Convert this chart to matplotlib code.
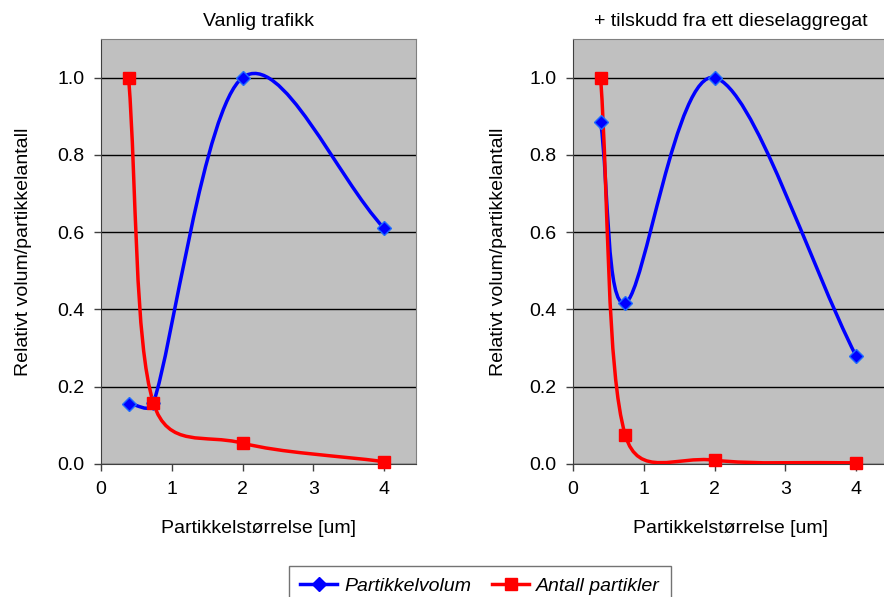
import numpy as np
import matplotlib
matplotlib.use("Agg")
import matplotlib.pyplot as plt
from matplotlib.path import Path
from matplotlib.patches import PathPatch
from matplotlib.lines import Line2D

plt.rcParams['font.family'] = ['Liberation Sans', 'DejaVu Sans']

# particle size [um]
sizes = [0.39, 0.74, 2.0, 4.0]

# left: normal traffic
vol_traffic = [0.156, 0.158, 1.0, 0.61]
count_traffic = [1.0, 0.158, 0.054, 0.006]

# right: + diesel generator
vol_diesel = [0.886, 0.417, 1.0, 0.279]
count_diesel = [1.0, 0.074, 0.010, 0.003]

titles = ["Vanlig trafikk", "+ tilskudd fra ett dieselaggregat"]
xlabel = "Partikkelstørrelse [um]"
ylabel = "Relativt volum/partikkelantall"
legend_labels = ["Partikkelvolum", "Antall partikler"]

FS = 14


def smooth_path(ax, xs, ys):
    # excel-like smoothed line: bezier segments, tangent = (next - prev)/6,
    # control arm capped at half the segment length (done in screen space)
    pts = ax.transData.transform(np.column_stack([xs, ys]))
    n = len(pts)
    verts = [pts[0]]
    codes = [Path.MOVETO]
    for i in range(n - 1):
        p0, p1 = pts[i], pts[i + 1]
        seg = np.hypot(*(p1 - p0))
        if i == 0:
            t1 = (p1 - p0) / 3.0
        else:
            t1 = (p1 - pts[i - 1]) / 6.0
        if i == n - 2:
            t2 = (p1 - p0) / 3.0
        else:
            t2 = (pts[i + 2] - p0) / 6.0
        for t in (t1, t2):
            ln = np.hypot(*t)
            if ln > seg / 2:
                t *= (seg / 2) / ln
        verts += [p0 + t1, p1 - t2, p1]
        codes += [Path.CURVE4] * 3
    verts = ax.transData.inverted().transform(np.array(verts))
    return Path(verts, codes)


fig = plt.figure(figsize=(8.84, 5.97), dpi=100)
W, H = 884.0, 597.0
ax_left = fig.add_axes([101 / W, (H - 464) / H, 315 / W, 425 / H])
ax_right = fig.add_axes([573 / W, (H - 464) / H, 315 / W, 425 / H])

panels = [
    (ax_left, vol_traffic, count_traffic, titles[0], -0.22),
    (ax_right, vol_diesel, count_diesel, titles[1], -0.21),
]

for ax, vol, cnt, title, ylab_x in panels:
    ax.set_facecolor('#c0c0c0')
    ax.set_xlim(0, 4.45)
    ax.set_ylim(0, 1.1)
    ax.set_xticks([0, 1, 2, 3, 4])
    ax.set_yticks([0, 0.2, 0.4, 0.6, 0.8, 1.0])
    ax.set_yticklabels(['0.0', '0.2', '0.4', '0.6', '0.8', '1.0'])
    ax.grid(axis='y', color='black', linewidth=1.0)
    ax.set_axisbelow(True)
    ax.tick_params(labelsize=FS, length=5, width=1, direction='out', pad=7,
                   color='#404040')
    for s in ['top', 'right']:
        ax.spines[s].set_color('#808080')
    for s in ['left', 'bottom']:
        ax.spines[s].set_color('#404040')
    ax.set_title(title, fontsize=FS, pad=9)
    ax.set_xlabel(xlabel, fontsize=FS, labelpad=16)
    ax.set_ylabel(ylabel, fontsize=FS)
    ax.yaxis.set_label_coords(ylab_x, 0.5)

    for vals, color in [(vol, 'blue'), (cnt, 'red')]:
        ax.add_patch(PathPatch(smooth_path(ax, sizes, vals), fill=False,
                               edgecolor=color, linewidth=2.5, zorder=3,
                               capstyle='round', joinstyle='round'))
    ax.plot(sizes, vol, linestyle='none', marker='D', markersize=7,
            color='blue', markeredgecolor='#1e6cff', zorder=4, clip_on=False)
    ax.plot(sizes, cnt, linestyle='none', marker='s', markersize=8,
            color='red', zorder=4, clip_on=False)

handles = [
    Line2D([], [], color='blue', linewidth=2.5, marker='D', markersize=7),
    Line2D([], [], color='red', linewidth=2.5, marker='s', markersize=8),
]
leg = fig.legend(handles, legend_labels, loc='center', ncol=2,
                 bbox_to_anchor=(480 / W, (H - 586) / H),
                 prop={'size': FS, 'style': 'italic'}, frameon=True,
                 fancybox=False, edgecolor='#505050', handlelength=1.9,
                 handletextpad=0.35, columnspacing=1.1, borderpad=0.6,
                 borderaxespad=0)
leg.get_frame().set_linewidth(1.0)

fig.savefig('out.png', dpi=100)
